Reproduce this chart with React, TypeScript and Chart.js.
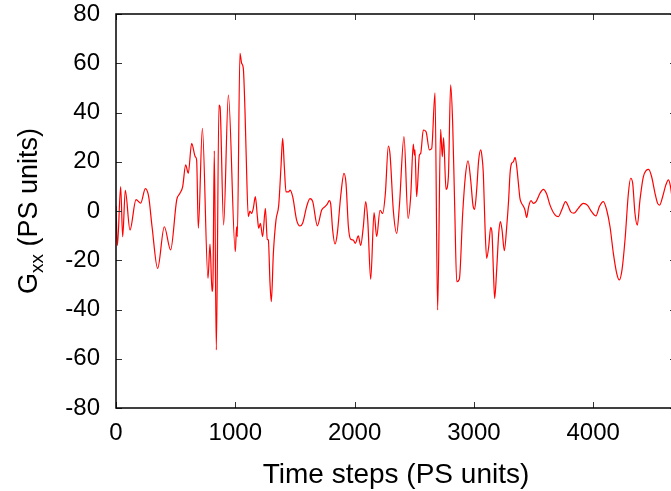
import React, { useEffect, useRef } from "react";
import { Chart, registerables } from "chart.js";

Chart.register(...registerables);

const TIME: number[] = [
  0, 12, 39, 56, 78, 117, 168, 207, 246, 274, 302, 349, 405, 458, 509, 536, 559, 584, 606, 634,
  665, 676, 690, 724, 771, 788, 805, 813, 824, 841, 863, 872, 902, 942, 1000, 1011, 1017, 1039, 1053, 1067,
  1081, 1090, 1109, 1123, 1137, 1151, 1168, 1185, 1196, 1210, 1229, 1252, 1268, 1277, 1291, 1302, 1319, 1341, 1364, 1383,
  1397, 1411, 1425, 1447, 1459, 1481, 1514, 1542, 1565, 1598, 1626, 1649, 1688, 1724, 1752, 1771, 1788, 1799, 1816, 1836,
  1855, 1883, 1911, 1928, 1948, 1967, 1989, 2006, 2031, 2051, 2073, 2093, 2110, 2135, 2163, 2185, 2213, 2235, 2258, 2283,
  2297, 2325, 2353, 2375, 2414, 2448, 2470, 2492, 2501, 2506, 2520, 2543, 2554, 2576, 2599, 2627, 2646, 2674, 2696, 2721,
  2735, 2746, 2766, 2786, 2805, 2822, 2839, 2856, 2878, 2906, 2928, 2951, 2973, 2992, 3006, 3023, 3040, 3057, 3068, 3079,
  3093, 3107, 3124, 3141, 3152, 3163, 3174, 3191, 3208, 3222, 3236, 3255, 3275, 3291, 3303, 3314, 3331, 3345, 3359, 3373,
  3386, 3400, 3414, 3428, 3442, 3459, 3479, 3498, 3521, 3554, 3582, 3610, 3638, 3680, 3708, 3736, 3769, 3792, 3811, 3839,
  3875, 3917, 3951, 3987, 4023, 4052, 4085, 4113, 4141, 4169, 4197, 4219, 4242, 4267, 4295, 4314, 4331, 4350, 4370, 4392,
  4420, 4443, 4465, 4490, 4518, 4540, 4557, 4582, 4609, 4631, 4648, 4665, 4694,
];

const GXX: number[] = [
  2, -14, 9.9, -10.5, 8.4, -7.7, 4.6, 3.2, 9.1, 5.8, -6.3, -23.3, -6.4, -15.8, 4.5, 7.2, 9.9, 18.7, 15.3, 27.5,
  22, 20.6, -7, 33.6, -27.3, -13.4, -32.7, -27.7, 24.4, -56.4, 43, 42.3, -5.7, 47.1, -16.5, -6.4, -10.4, 64, 60, 58,
  41, 24.8, -2.3, 0, -1, 1.1, 5.8, -2.3, -7, -5, -10.4, 1.1, -11.5, -11.8, -29.4, -36.8, -17.2, -3.7, 2.4, 18,
  29.5, 18, 7.8, 7.8, 8.5, 5.8, -3.7, -6.1, -4.9, 1.8, 5, 3.8, -6, 0.4, 1.8, 2.8, 4.2, 3.1, -7.7, -13.4,
  -9.1, 5.8, 15.3, 11.2, -6.4, -11.5, -11.8, -13.1, -10.1, -14, -6.4, 3.8, -3.6, -27.7, -0.7, -10.4, 0.3, -1, 7.2, 26.4,
  23, 0, -9.1, 1.8, 30.2, -3, 5.8, 27.2, 22.7, 24.8, 5.8, 22.7, 23.4, 32.9, 32.2, 24.8, 25.4, 48, -40.2, 33.2,
  22, 29.8, 8.8, 13.9, 51.2, 35.6, 1.8, -28.7, -27.7, -1, 13.9, 20.4, 12.6, 2.4, 0.7, 8.5, 20.7, 24.8, 22, 15.3,
  -6.4, -19.2, -14.5, -6.6, -9.1, -23.7, -35.5, -23.7, -9.1, -4.3, -7.7, -16.1, -6.4, 4.5, 15.3, 19.1, 20, 21.8, 18, 11.2,
  5.1, 3.1, 2, 0.4, -2.6, 1.8, 4.2, 3.1, 3.8, 7.2, 8.8, 6.9, 2.4, -1.6, -2.3, 0.4, 3.8, 1.8, -0.3, -0.9,
  1.1, 3.1, 2.4, -0.3, -2, 1.8, 3.8, 0.4, -6.4, -17.2, -25.3, -28, -23.7, -11.5, 7.2, 13.3, 11.2, -0.9, -5.7, 4.5,
  13.9, 16.4, 16.9, 13.9, 7.2, 3.1, 2.4, 5.8, 10.6, 12.6, 9.9, 4, 1,
];

const X_TICKS: number[] = [0, 1000, 2000, 3000, 4000];
const X_MIN = 0;
const X_MAX = 4694;
const Y_MIN = -80;
const Y_MAX = 80;
const Y_STEP = 20;
const X_TITLE = "Time steps (PS units)";
const Y_TITLE_MAIN = "G";
const Y_TITLE_SUB = "xx";
const Y_TITLE_REST = " (PS units)";

const FONT = '"Liberation Sans", Arial, Helvetica, sans-serif';

const framePlugin = {
  id: "frame",
  afterDraw(chart: any) {
    const { ctx, chartArea } = chart;
    const { left, right, top, bottom } = chartArea;
    const xs = chart.scales.x;
    const ys = chart.scales.y;
    ctx.save();
    ctx.strokeStyle = "#333";
    ctx.lineWidth = 1;
    const TL = 6;
    ctx.beginPath();
    for (const v of X_TICKS) {
      const px = Math.round(xs.getPixelForValue(v)) + 0.5;
      ctx.moveTo(px, bottom);
      ctx.lineTo(px, bottom - TL);
      ctx.moveTo(px, top);
      ctx.lineTo(px, top + TL);
    }
    for (let v = Y_MIN; v <= Y_MAX; v += Y_STEP) {
      const py = Math.round(ys.getPixelForValue(v)) + 0.5;
      ctx.moveTo(left, py);
      ctx.lineTo(left + TL, py);
      ctx.moveTo(right, py);
      ctx.lineTo(right - TL, py);
    }
    ctx.stroke();
    ctx.strokeStyle = "#000";
    ctx.lineWidth = 1.5;
    ctx.strokeRect(left, top, right - left, bottom - top);

    ctx.fillStyle = "#000";
    ctx.font = `28px ${FONT}`;
    ctx.textAlign = "center";
    ctx.textBaseline = "alphabetic";
    ctx.fillText(X_TITLE, (left + right) / 2, 483);

    const F = 27;
    const S = 19;
    ctx.translate(36.5, (top + bottom) / 2);
    ctx.rotate(-Math.PI / 2);
    ctx.textAlign = "left";
    ctx.font = `${F}px ${FONT}`;
    const wG = ctx.measureText(Y_TITLE_MAIN).width;
    const wR = ctx.measureText(Y_TITLE_REST).width;
    ctx.font = `${S}px ${FONT}`;
    const wS = ctx.measureText(Y_TITLE_SUB).width;
    let x = -(wG + wS + wR) / 2;
    ctx.font = `${F}px ${FONT}`;
    ctx.fillText(Y_TITLE_MAIN, x, 0);
    x += wG;
    ctx.font = `${S}px ${FONT}`;
    ctx.fillText(Y_TITLE_SUB, x, 6);
    x += wS;
    ctx.font = `${F}px ${FONT}`;
    ctx.fillText(Y_TITLE_REST, x, 0);
    ctx.restore();
  },
};

export default function App() {
  const ref = useRef<HTMLCanvasElement | null>(null);
  useEffect(() => {
    if (!ref.current) return;
    const points = TIME.map((t, i) => ({ x: t, y: GXX[i] }));
    const chart = new Chart(ref.current, {
      type: "line",
      data: {
        datasets: [
          {
            data: points,
            borderColor: "#ff0000",
            borderWidth: 1.2,
            pointRadius: 0,
            fill: false,
            cubicInterpolationMode: "monotone",
          },
        ],
      },
      options: {
        animation: false,
        responsive: false,
        devicePixelRatio: 1,
        layout: { padding: { top: 14, right: 24, left: 0, bottom: 0 } },
        plugins: { legend: { display: false }, tooltip: { enabled: false } },
        scales: {
          x: {
            type: "linear",
            min: X_MIN,
            max: X_MAX,
            afterBuildTicks: (scale: any) => {
              scale.ticks = X_TICKS.map((v) => ({ value: v }));
            },
            afterFit: (scale: any) => {
              scale.height = 83;
              scale.paddingLeft = 0;
              scale.paddingRight = 0;
            },
            grid: { display: false, drawTicks: false },
            border: { display: false },
            ticks: {
              padding: 13,
              color: "#000",
              maxRotation: 0,
              font: { family: FONT, size: 24, lineHeight: 1 },
              callback: (v: any) => String(v),
            },
          },
          y: {
            min: Y_MIN,
            max: Y_MAX,
            afterFit: (scale: any) => {
              scale.width = 116;
              scale.paddingTop = 0;
              scale.paddingBottom = 0;
            },
            grid: { display: false, drawTicks: false },
            border: { display: false },
            ticks: {
              stepSize: Y_STEP,
              padding: 16,
              color: "#000",
              font: { family: FONT, size: 24, lineHeight: 1 },
              callback: (v: any) => String(v),
            },
          },
        },
      },
      plugins: [framePlugin],
    });
    return () => chart.destroy();
  }, []);
  return (
    <div
      style={{
        position: "fixed",
        left: 0,
        top: 0,
        width: 671,
        height: 491,
        overflow: "hidden",
        background: "#fff",
      }}
    >
      <canvas ref={ref} width={700} height={491} style={{ display: "block", width: 700, height: 491 }} />
    </div>
  );
}
